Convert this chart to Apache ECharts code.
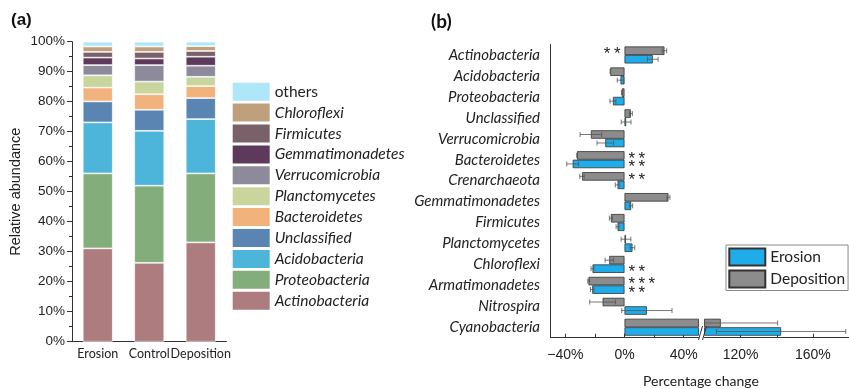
<!DOCTYPE html>
<html>
<head>
<meta charset="utf-8">
<script src="https://cdn.jsdelivr.net/npm/echarts@6/dist/echarts.min.js"></script>
<style>
  html, body { margin: 0; padding: 0; background: #fff; }
  #chart { width: 849px; height: 389px; }
</style>
</head>
<body>
<div id="chart"></div>
<script>
// ---- Panel (a): relative abundance of the dominant phyla ----
const sites = ['Erosion', 'Control', 'Deposition'];
const phyla = ['Actinobacteria', 'Proteobacteria', 'Acidobacteria', 'Unclassified', 'Bacteroidetes',
  'Planctomycetes', 'Verrucomicrobia', 'Gemmatimonadetes', 'Firmicutes', 'Chloroflexi', 'others'];
const erosionAbundance    = [31.1, 25.0, 17.0, 7.0, 4.6, 4.1, 3.4, 2.5, 1.9, 1.8, 1.6];
const controlAbundance    = [26.3, 25.7, 18.3, 7.0, 5.2, 4.2, 5.5, 2.2, 2.2, 1.8, 1.6];
const depositionAbundance = [33.1, 23.0, 18.1, 7.0, 4.0, 3.1, 3.7, 3.0, 1.9, 1.6, 1.5];
const abundanceTicks = [0, 10, 20, 30, 40, 50, 60, 70, 80, 90, 100];

// ---- Panel (b): percentage change relative to the control ----
const taxa = ['Actinobacteria', 'Acidobacteria', 'Proteobacteria', 'Unclassified', 'Verrucomicrobia',
  'Bacteroidetes', 'Crenarchaeota', 'Gemmatimonadetes', 'Firmicutes', 'Planctomycetes',
  'Chloroflexi', 'Armatimonadetes', 'Nitrospira', 'Cyanobacteria'];
const erosionChange    = [19.1, -2.7, -7.8, 1.1, -13.0, -35.0, -4.7, 4.5, -4.7, 5.4, -21.6, -21.8, 15.1, 142.4];
const erosionError     = [3.6, 2.2, 2.0, 3.3, 5.6, 4.0, 1.5, 1.0, 1.0, 1.5, 1.0, 1.2, 17.0, 35.8];
const depositionChange = [27.0, -9.6, -1.8, 4.3, -22.7, -32.1, -28.7, 29.7, -9.2, 1.0, -10.3, -24.3, -14.8, 109.0];
const depositionError  = [1.5, 0, 0, 1.0, 7.3, 0, 1.5, 1.0, 1.0, 3.3, 2.8, 0.5, 8.7, 31.5];
const erosionSignif    = ['', '', '', '', '', '**', '', '', '', '', '**', '**', '', ''];
const depositionSignif = ['**', '', '', '', '', '**', '**', '', '', '', '', '***', '', ''];
const lowTicks  = [-40, -20, 0, 20, 40];
const lowLabels = [-40, 0, 40];
const highTicks  = [120, 140, 160, 180];
const highLabels = [120, 160];

const phylumColors = ['#ad7c7e', '#84ad7c', '#4db5da', '#5a84b2', '#f2b27c', '#c9d59c',
  '#8d8b9b', '#5d3a5b', '#7a6068', '#bfa07c', '#aee8f8'];
const erosionColor = '#1fadea';
const depositionColor = '#8c8c8c';

const sans = 'Liberation Sans';
const humanist = 'Lato';

const siteValues = [erosionAbundance, controlAbundance, depositionAbundance];

const stackSeries = phyla.map((p, i) => ({
  name: p,
  type: 'bar',
  stack: 'total',
  xAxisIndex: 0,
  yAxisIndex: 0,
  barWidth: 30,
  data: siteValues.map(v => v[i]),
  itemStyle: { color: phylumColors[i], borderColor: '#ffffff', borderWidth: 0.7 },
  emphasis: { disabled: true }
}));

const pctLabel = v => (v < 0 ? '\u2212' : '') + Math.abs(v) + '%';

// significance stars, spaced out a little
const starText = s => s.split('').join('\u2009');

function barData(values, signif) {
  return values.map((v, i) => {
    if (!signif[i]) return v;
    return {
      value: v,
      label: {
        show: true,
        formatter: starText(signif[i]),
        position: v < 0 ? 'right' : 'left',
        distance: 4,
        offset: [0, 3.5],
        fontFamily: sans,
        fontSize: 17,
        color: '#222'
      }
    };
  });
}

function changeBars(name, values, color, axis, signif) {
  return {
    name: name,
    type: 'bar',
    xAxisIndex: axis,
    yAxisIndex: axis,
    barWidth: 8.5,
    barGap: '0%',
    clip: true,
    data: signif ? barData(values, signif) : values,
    itemStyle: { color: color, borderColor: '#333', borderWidth: 0.8 },
    emphasis: { disabled: true }
  };
}

// Error bars: horizontal whisker lines centred on each bar
function errorBars(values, errors, axis, shift) {
  return {
    type: 'custom',
    name: 'err' + axis + shift,
    xAxisIndex: axis,
    yAxisIndex: axis,
    clip: true,
    silent: true,
    z: 3,
    data: values.map((v, i) => [v - errors[i], v + errors[i], i]),
    renderItem: function (params, api) {
      const lo = api.coord([api.value(0), api.value(2)]);
      const hi = api.coord([api.value(1), api.value(2)]);
      const y = lo[1] + shift;
      const h = 2.5;
      const st = { stroke: '#555', lineWidth: 0.8, fill: null };
      return {
        type: 'group',
        children: [
          { type: 'line', shape: { x1: lo[0], y1: y, x2: hi[0], y2: y }, style: st },
          { type: 'line', shape: { x1: lo[0], y1: y - h, x2: lo[0], y2: y + h }, style: st },
          { type: 'line', shape: { x1: hi[0], y1: y - h, x2: hi[0], y2: y + h }, style: st }
        ]
      };
    }
  };
}

const chart = echarts.init(document.getElementById('chart'), null, { renderer: 'canvas' });

const option = {
  animation: false,
  backgroundColor: '#ffffff',
  title: [
    { text: '(a)', left: 6, top: 7, textStyle: { fontFamily: sans, fontWeight: 'bold', fontSize: 17, color: '#111' } },
    { text: '(b)', left: 426, top: 7, textStyle: { fontFamily: humanist, fontWeight: 'bold', fontSize: 19, color: '#111' } },
    { text: 'Percentage change', left: 701, top: 374, padding: 0, textAlign: 'center',
      textStyle: { fontFamily: humanist, fontWeight: 'normal', fontSize: 14, color: '#222' } }
  ],
  legend: [
    {
      orient: 'vertical',
      left: 232.7,
      top: 82.7,
      itemWidth: 37,
      itemHeight: 18,
      itemGap: 2.9,
      icon: 'rect',
      selectedMode: false,
      padding: 0,
      itemStyle: { borderWidth: 0 },
      textStyle: { fontFamily: humanist, fontSize: 15.5, color: '#222' },
      data: phyla.slice().reverse().map(p => ({
        name: p,
        textStyle: { fontStyle: p === 'others' ? 'normal' : 'italic' }
      }))
    },
    {
      orient: 'vertical',
      left: 726,
      top: 245,
      itemWidth: 36,
      itemHeight: 17,
      itemGap: 3,
      icon: 'rect',
      selectedMode: false,
      padding: [2.5, 3, 2, 2.3],
      borderColor: '#888',
      borderWidth: 1,
      textStyle: { fontFamily: humanist, fontSize: 15.5, color: '#222' },
      data: ['Erosion', 'Deposition']
    }
  ],
  grid: [
    { left: 72, top: 41.7, width: 154.5, height: 300 },
    { left: 550.5, top: 44.5, width: 148, height: 293.2 },
    { left: 704.5, top: 44.5, width: 148, height: 293.2 }
  ],
  xAxis: [
    {
      type: 'category', gridIndex: 0, data: sites,
      axisLine: { lineStyle: { color: '#333', width: 1 } },
      axisTick: { alignWithLabel: true, length: 5, lineStyle: { color: '#333' } },
      axisLabel: { fontFamily: humanist, fontSize: 12.5, color: '#222', margin: 6, interval: 0 }
    },
    {
      type: 'value', gridIndex: 1, min: -50, max: 50,
      splitLine: { show: false },
      axisLine: { show: true, onZero: false, lineStyle: { color: '#333', width: 1 } },
      axisTick: { show: true, inside: true, length: 4, customValues: lowTicks, lineStyle: { color: '#333' } },
      axisLabel: { customValues: lowLabels, formatter: pctLabel, fontFamily: sans, fontSize: 14, color: '#222', margin: 10 }
    },
    {
      type: 'value', gridIndex: 2, min: 100, max: 180,
      splitLine: { show: false },
      axisLine: { show: true, onZero: false, lineStyle: { color: '#333', width: 1 } },
      axisTick: { show: true, inside: true, length: 4, customValues: highTicks, lineStyle: { color: '#333' } },
      axisLabel: { customValues: highLabels, formatter: pctLabel, fontFamily: sans, fontSize: 14, color: '#222', margin: 10 }
    },
    {
      // boundary ticks between the stacked columns
      type: 'category', gridIndex: 0, data: sites, position: 'bottom',
      axisLine: { show: false },
      axisTick: { alignWithLabel: false, length: 3, lineStyle: { color: '#333' } },
      axisLabel: { show: false }
    }
  ],
  yAxis: [
    {
      type: 'value', gridIndex: 0, min: 0, max: 100, interval: 10,
      name: 'Relative abundance', nameLocation: 'middle', nameGap: 49, nameRotate: 90,
      nameTextStyle: { fontFamily: sans, fontSize: 14.5, color: '#222' },
      splitLine: { show: false },
      axisLine: { show: true, lineStyle: { color: '#333', width: 1 } },
      axisTick: { show: true, length: 5, lineStyle: { color: '#333' } },
      minorTick: { show: true, splitNumber: 2, length: 3, lineStyle: { color: '#333' } },
      axisLabel: { formatter: '{value}%', customValues: abundanceTicks, fontFamily: sans, fontSize: 13.5, color: '#222', margin: 7 }
    },
    {
      type: 'category', gridIndex: 1, data: taxa, inverse: true,
      axisLine: { show: true, onZero: false, lineStyle: { color: '#333', width: 1 } },
      axisTick: { alignWithLabel: true, length: 6, lineStyle: { color: '#333' } },
      axisLabel: { fontFamily: humanist, fontStyle: 'italic', fontSize: 15, color: '#222', margin: 10.5, interval: 0 }
    },
    {
      type: 'category', gridIndex: 2, data: taxa, inverse: true, show: false
    }
  ],
  graphic: [
    { type: 'line', z: 100, shape: { x1: 698.5, y1: 340, x2: 702.5, y2: 326 }, style: { stroke: '#333', lineWidth: 1 } },
    { type: 'line', z: 100, shape: { x1: 702.5, y1: 340, x2: 706.5, y2: 326 }, style: { stroke: '#333', lineWidth: 1 } }
  ],
  series: [
    ...stackSeries,
    changeBars('Deposition', depositionChange, depositionColor, 1, depositionSignif),
    changeBars('Erosion', erosionChange, erosionColor, 1, erosionSignif),
    changeBars('Deposition', depositionChange, depositionColor, 2, null),
    changeBars('Erosion', erosionChange, erosionColor, 2, null),
    errorBars(depositionChange, depositionError, 1, -4.25),
    errorBars(erosionChange, erosionError, 1, 4.25),
    errorBars(depositionChange, depositionError, 2, -4.25),
    errorBars(erosionChange, erosionError, 2, 4.25)
  ]
};

chart.setOption(option);
</script>
</body>
</html>
